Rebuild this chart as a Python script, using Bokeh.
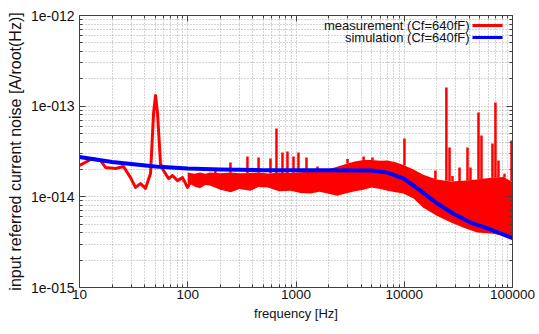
import numpy as np
from bokeh.plotting import figure
from bokeh.models import FixedTicker, CustomJSTickFormatter, LogAxis, Label, ColumnDataSource
from bokeh.embed import file_html
from bokeh.resources import INLINE

# ---------------- data ----------------
x_major = [10, 100, 1000, 10000, 100000]
y_major = [1e-15, 1e-14, 1e-13, 1e-12]

sim_freq = [10, 20, 30, 50, 100, 200, 500, 1000, 2000, 5000, 7000, 10000,
            14000, 20000, 28500, 41000, 59000, 100000]
sim_noise = [2.75e-14, 2.42e-14, 2.3e-14, 2.16e-14, 2.05e-14, 2.0e-14, 1.97e-14,
             1.96e-14, 1.96e-14, 1.95e-14, 1.85e-14, 1.58e-14, 1.18e-14, 8.5e-15,
             6.5e-15, 5.2e-15, 4.5e-15, 3.5e-15]

# measurement, low-frequency part (single trace)
meas_lf_freq = [10, 13.2, 15.6, 17.4, 21.5, 25.5, 29.6, 32.9, 36.6, 40.7, 45.3,
                48.3, 50.4, 52.6, 56.0, 59.7, 66.4, 72.3, 80.4, 89.4, 99.5, 110.7]
meas_lf_noise = [2.22e-14, 2.65e-14, 2.52e-14, 2.11e-14, 2.05e-14, 2.16e-14,
                 1.63e-14, 1.27e-14, 1.40e-14, 1.24e-14, 1.81e-14, 8.3e-14,
                 1.31e-13, 8.3e-14, 2.33e-14, 1.95e-14, 1.59e-14, 1.72e-14,
                 1.51e-14, 1.63e-14, 1.27e-14, 1.6e-14]

# measurement, dense noisy part: envelope of the trace
band_freq = [100, 115, 130, 145, 160, 200, 250, 300, 380, 450, 550, 700, 890, 1100,
             1360, 1650, 1950, 2400, 2990, 3500, 4200, 5000, 6000, 7000, 8300, 9800,
             12200, 15000, 20000, 27000, 35000, 47000, 63000, 83000, 100000]
band_lower = [1.44e-14, 1.3e-14, 1.24e-14, 1.35e-14, 1.33e-14, 1.2e-14, 1.12e-14,
              1.22e-14, 1.17e-14, 1.28e-14, 1.27e-14, 1.15e-14, 1.17e-14, 1.1e-14,
              1.09e-14, 1.14e-14, 1.09e-14, 1.03e-14, 1.1e-14, 1.15e-14, 1.2e-14,
              1.27e-14, 1.22e-14, 1.17e-14, 1.12e-14, 1.09e-14, 9.6e-15, 7.6e-15,
              6.2e-15, 5.2e-15, 4.6e-15, 4.05e-15, 3.95e-15, 3.75e-15, 3.56e-15]
band_upper = [1.85e-14, 1.8e-14, 1.85e-14, 1.8e-14, 1.85e-14, 1.82e-14, 1.85e-14,
              1.82e-14, 1.83e-14, 1.86e-14, 1.81e-14, 1.84e-14, 1.83e-14, 1.87e-14,
              1.9e-14, 1.95e-14, 2.0e-14, 2.15e-14, 2.33e-14, 2.45e-14, 2.55e-14,
              2.55e-14, 2.5e-14, 2.52e-14, 2.4e-14, 2.25e-14, 2.0e-14, 1.75e-14,
              1.55e-14, 1.48e-14, 1.5e-14, 1.55e-14, 1.62e-14, 1.65e-14, 1.45e-14]

# measurement, narrow spikes
spike_freq = [180, 248, 356, 451, 581, 660, 750, 834, 948, 1054, 1250, 1580, 2990,
              4210, 5090, 10040, 19400, 24500, 26200, 27900, 32400, 38400, 40900,
              48500, 51700, 65300, 69600, 74200, 84400, 97900]
spike_peak = [2.05e-14, 2.39e-14, 2.79e-14, 2.72e-14, 2.65e-14, 5.67e-14, 3.08e-14,
              3.16e-14, 2.79e-14, 3.08e-14, 2.72e-14, 2.16e-14, 2.62e-14, 2.79e-14,
              2.72e-14, 4.4e-14, 1.95e-14, 1.61e-13, 3.5e-14, 1.7e-14, 2.11e-14,
              3.5e-14, 2.11e-14, 8.5e-14, 4.75e-14, 3.87e-14, 1.1e-13, 2.52e-14,
              1.8e-14, 4.18e-14]

legend_labels = ["measurement (Cf=640fF)", "simulation (Cf=640fF)"]

# ---------------- figure ----------------
FONT = "Liberation Sans"
RED = "#ff0000"
BLUE = "#0000ff"
GRID = "#a8a8a8"
FRAME = "#404040"

p = figure(width=535, height=326, x_axis_type="log", y_axis_type="log",
           x_range=(10, 100000), y_range=(1e-15, 1e-12),
           output_backend="svg", toolbar_location=None,
           min_border_left=79, min_border_right=23, min_border_top=15,
           min_border_bottom=39)
p.background_fill_color = "white"
p.border_fill_color = "white"
p.outline_line_color = FRAME
p.outline_line_width = 1

x_minor = [m * d for d in x_major[:-1] for m in range(2, 10)]
y_minor = [m * d for d in y_major[:-1] for m in range(2, 10)]
xticker = FixedTicker(ticks=x_major, minor_ticks=x_minor)
yticker = FixedTicker(ticks=y_major, minor_ticks=y_minor)

xfmt = CustomJSTickFormatter(code="return String(Math.round(tick));")
yfmt = CustomJSTickFormatter(code="const e = Math.round(Math.log10(tick)); return '1e-' + String(-e).padStart(3, '0');")
nofmt = CustomJSTickFormatter(code="return '';")

def style_axis(ax):
    ax.major_tick_in = 6
    ax.major_tick_out = 0
    ax.minor_tick_in = 3
    ax.minor_tick_out = 0
    ax.axis_line_color = FRAME
    ax.major_tick_line_color = FRAME
    ax.minor_tick_line_color = FRAME
    ax.major_label_text_font = FONT
    ax.major_label_text_color = "#111111"
    ax.axis_label_text_font = FONT
    ax.axis_label_text_font_style = "normal"
    ax.axis_label_text_color = "#111111"

p.xaxis.ticker = xticker
p.yaxis.ticker = yticker
p.xaxis.formatter = xfmt
p.yaxis.formatter = yfmt
for ax in [p.xaxis[0], p.yaxis[0]]:
    style_axis(ax)
p.xaxis.major_label_text_font_size = "13.5px"
p.yaxis.major_label_text_font_size = "14px"
p.xaxis.major_label_standoff = 2
p.yaxis.major_label_standoff = 5
p.xaxis.axis_label = "frequency [Hz]"
p.yaxis.axis_label = "input referred current noise [A/root(Hz)]"
p.xaxis.axis_label_text_font_size = "13px"
p.yaxis.axis_label_text_font_size = "16px"
p.xaxis.axis_label_standoff = 4
p.yaxis.axis_label_standoff = 4

top_ax = LogAxis(ticker=xticker, formatter=nofmt, major_label_standoff=0)
right_ax = LogAxis(ticker=yticker, formatter=nofmt, major_label_standoff=0)
for ax in [top_ax, right_ax]:
    style_axis(ax)
    ax.major_label_text_font_size = "0px"
p.add_layout(top_ax, "above")
p.add_layout(right_ax, "right")

for g in [p.xgrid[0], p.ygrid[0]]:
    g.grid_line_color = GRID
    g.grid_line_dash = "1 2"
    g.grid_line_width = 1
    g.minor_grid_line_color = GRID
    g.minor_grid_line_dash = "1 2"
    g.minor_grid_line_width = 1

# ---------------- data glyphs ----------------
band_src = ColumnDataSource(dict(f=band_freq, lo=band_lower, hi=band_upper))
p.varea(x="f", y1="lo", y2="hi", source=band_src, fill_color=RED, fill_alpha=1.0)

p.line(meas_lf_freq, meas_lf_noise, line_color=RED, line_width=3, line_join="round")

lf = np.log10(band_freq)
spike_base = 10 ** np.interp(np.log10(spike_freq), lf, np.log10(band_upper))
p.segment(x0=spike_freq, x1=spike_freq, y0=list(spike_base), y1=spike_peak,
          line_color=RED, line_width=2.5)

p.line(sim_freq, sim_noise, line_color=BLUE, line_width=4, line_join="round")

# ---------------- key (gnuplot style: text then sample line) ----------------
key_text_x = 40100
key_line_x = (42700, 80900)
key_y = [7.76e-13, 5.71e-13]
key_colors = [RED, BLUE]
for lab, ky, kc in zip(legend_labels, key_y, key_colors):
    p.add_layout(Label(x=key_text_x, y=ky, text=lab, text_align="right",
                       text_baseline="middle", text_font=FONT,
                       text_font_size="13px", text_color="#111111"))
    p.segment(x0=[key_line_x[0]], x1=[key_line_x[1]], y0=[ky], y1=[ky],
              line_color=kc, line_width=3)

open("out.html", "w").write(file_html(p, INLINE))
